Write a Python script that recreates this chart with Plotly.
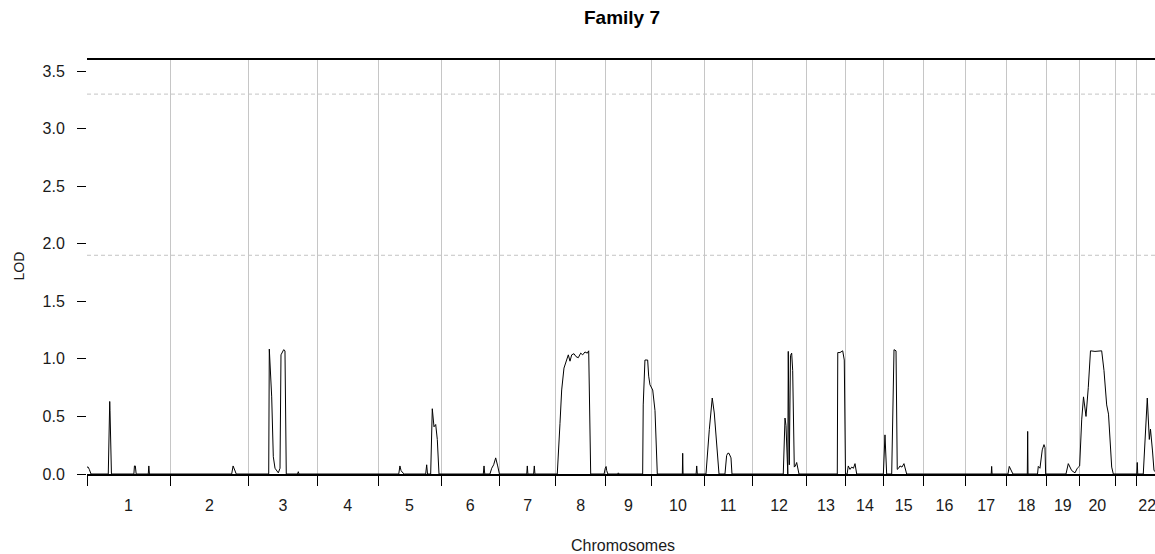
import plotly.graph_objects as go

# ---------------- data ----------------
chrom_labels = [str(i) for i in range(1, 23)]
shown_labels = [l if l != "21" else "" for l in chrom_labels]
chrom_lengths_cM = [289, 273, 239, 211, 219, 203, 196, 173, 160, 183, 167,
                    187, 139, 132, 137, 147, 143, 137, 116, 124, 73, 77]
lod_thresholds = [1.9, 3.3]
y_ticks = [0.0, 0.5, 1.0, 1.5, 2.0, 2.5, 3.0, 3.5]

# positions (cM within chromosome) and LOD scores, one list per chromosome
positions = [
    [0, 4, 8, 14, 74, 79, 80, 85, 163, 165, 168, 171, 213, 215, 217, 289],
    [0, 214, 219, 225, 230, 273],
    [0, 69.8, 71.9, 75, 80.2, 85.8, 91.7, 103.2, 109.1, 112.5, 118.4, 121.9, 126.4, 130.9, 170, 172.7, 175, 239],
    [0, 211],
    [0, 72, 76, 80, 86, 92, 165.6, 169.1, 172, 183, 188.6, 194.5, 200.4, 206, 211.9, 219],
    [0, 147, 149.5, 152, 170, 176.2, 183, 190, 197, 201.5, 203],
    [0, 95, 97, 99, 119, 121.3, 123.5, 196],
    [0, 5.2, 14.6, 20.5, 28.5, 35.5, 43.5, 49.4, 55.3, 63.3, 70.2, 78.2, 86.6, 93.5, 101.5, 109.6, 114.4, 121.4, 168, 172],
    [0, 2, 4, 8, 42, 44.4, 47, 129.1, 131, 137, 146.5, 150, 154.5],
    [4, 12, 20, 107, 108.3, 109.5, 155, 157, 159, 183],
    [0, 6.2, 17.8, 23.7, 28, 35.1, 43.5, 51.5, 72.3, 78, 82, 86.2, 93.2, 96.6, 167],
    [0, 108, 114, 117.5, 123.7, 125.4, 128.9, 133, 137.2, 140.7, 146.3, 150, 154.6, 158.1, 162.6, 187],
    [0, 108.8, 110.5, 118.2, 127.6, 133.1, 137.3, 139],
    [0, 4, 8, 14, 19.9, 26, 31.4, 37.3, 130],
    [0, 3.6, 9.5, 27, 35, 42, 46.3, 51, 55.7, 62.7, 69.6, 79, 137],
    [0, 147],
    [0, 89, 90.6, 92, 143],
    [0, 4.3, 8.8, 13, 17, 21.5, 71.5, 72.8, 74, 107, 109.7, 115.5, 119, 123.5, 129.5, 133, 135.3, 137],
    [0, 69, 77, 83, 88.8, 100.3, 108.3],
    [0.5, 7.6, 13.9, 22.6, 30.5, 38.2, 53.8, 77.1, 85.1, 94.5, 100.8, 111.9, 117.5, 124],
    [0, 73],
    [0, 2, 3.9, 5.5, 24.7, 38.7, 45.7, 49.8, 56.8, 62, 77],
]
lods = [
    [0.06, 0.06, 0.04, 0, 0, 0.63, 0.55, 0, 0, 0.07, 0.07, 0, 0, 0.07, 0, 0],
    [0, 0, 0.07, 0.03, 0, 0],
    [0, 0, 1.085, 0.9, 0.67, 0.15, 0.05, 0.01, 0.05, 1.035, 1.065, 1.08, 1.07, 0, 0, 0.02, 0, 0],
    [0, 0],
    [0, 0, 0.07, 0.03, 0.01, 0, 0, 0.08, 0, 0, 0.567, 0.41, 0.43, 0.3, 0, 0],
    [0, 0, 0.07, 0, 0, 0.05, 0.08, 0.14, 0.07, 0, 0],
    [0, 0, 0.07, 0, 0, 0.07, 0, 0],
    [0, 0, 0.44, 0.73, 0.92, 0.98, 1.035, 0.98, 1.035, 1.045, 1.02, 1.01, 1.05, 1.035, 1.06, 1.05, 1.07, 0, 0, 0.05],
    [0.06, 0.065, 0.03, 0, 0, 0.01, 0, 0, 0.6, 0.99, 0.99, 0.85, 0.775],
    [0.73, 0.55, 0, 0, 0.18, 0, 0, 0.07, 0, 0],
    [0, 0, 0.385, 0.59, 0.66, 0.53, 0.24, 0, 0, 0.16, 0.18, 0.18, 0.14, 0, 0],
    [0, 0, 0.486, 0.42, 0, 1.065, 0.08, 1.03, 1.05, 0.9, 0.06, 0.07, 0.1, 0.05, 0, 0],
    [0, 0, 1.055, 1.055, 1.07, 0.99, 0, 0],
    [0, 0, 0.07, 0.04, 0.06, 0.05, 0.09, 0, 0],
    [0.1, 0.34, 0, 0, 1.08, 1.07, 0.04, 0.05, 0.07, 0.06, 0.09, 0, 0],
    [0, 0],
    [0, 0, 0.066, 0, 0],
    [0, 0, 0.066, 0.04, 0.02, 0, 0, 0.37, 0, 0, 0.066, 0.05, 0.12, 0.21, 0.255, 0.23, 0, 0],
    [0, 0, 0.09, 0.06, 0.03, 0.01, 0.05],
    [0.07, 0.47, 0.67, 0.5, 0.75, 1.07, 1.065, 1.07, 0.9, 0.6, 0.52, 0.06, 0, 0],
    [0, 0],
    [0, 0, 0.1, 0, 0, 0.66, 0.3, 0.39, 0.2, 0.03, 0],
]

# ---------------- build genome-wide coordinates ----------------
chrom_starts = []
acc = 0
for L in chrom_lengths_cM:
    chrom_starts.append(acc)
    acc += L
genome_end = acc
chrom_mids = [s + L / 2 for s, L in zip(chrom_starts, chrom_lengths_cM)]

gx, gy = [], []
for s, p, v in zip(chrom_starts, positions, lods):
    gx += [s + pi for pi in p]
    gy += v

x_range = [0, 3713.5]
y_range = [0, 3.605]
FONT = "Liberation Sans, Arial, Helvetica, sans-serif"

fig = go.Figure()
fig.add_trace(go.Scatter(x=gx, y=gy, mode="lines",
                         line=dict(color="black", width=1),
                         hoverinfo="skip", showlegend=False))
fig.add_trace(go.Scatter(x=[chrom_mids[0]], y=[0], xaxis="x2", mode="markers",
                         marker=dict(opacity=0), hoverinfo="skip", showlegend=False))

shapes = []
for t in lod_thresholds:
    shapes.append(dict(type="line", xref="paper", x0=0, x1=1, yref="y", y0=t, y1=t,
                       line=dict(color="#c4c4c4", width=1, dash="4px,3px"), layer="below"))
shapes.append(dict(type="line", xref="paper", x0=0, x1=1, yref="paper", y0=1, y1=1,
                   line=dict(color="black", width=2)))

fig.update_layout(
    width=1155, height=554,
    margin=dict(l=87, r=0, t=59, b=80, autoexpand=False),
    paper_bgcolor="white", plot_bgcolor="white",
    font=dict(family=FONT, size=16, color="#1a1a1a"),
    showlegend=False,
    shapes=shapes,
    xaxis=dict(range=x_range, tickmode="array", tickvals=chrom_starts + [genome_end],
               ticktext=[""] * (len(chrom_starts) + 1), showticklabels=False,
               ticks="outside", ticklen=10, tickwidth=1, tickcolor="black",
               showgrid=True, gridcolor="#c6c6c6", gridwidth=1, automargin=False,
               showline=True, linecolor="black", linewidth=1.5, zeroline=False),
    xaxis2=dict(overlaying="x", side="bottom", anchor="y", range=x_range,
                tickmode="array", tickvals=chrom_mids, ticktext=shown_labels,
                ticks="outside", ticklen=17, tickcolor="rgba(0,0,0,0)",
                ticklabeloverflow="allow",
                showgrid=False, showline=False, zeroline=False, automargin=False,
                tickfont=dict(size=16, family=FONT, color="#1a1a1a")),
    yaxis=dict(range=y_range, tickmode="array", tickvals=y_ticks,
               ticktext=[f"{v:.1f}" for v in y_ticks],
               ticks="outside", ticklen=9, tickwidth=1, tickcolor="black",
               ticklabelstandoff=9, automargin=False,
               showgrid=False, zeroline=False, showline=False,
               tickfont=dict(size=16, family=FONT, color="#1a1a1a")),
    annotations=[
        dict(text="<b>Family 7</b>", xref="paper", yref="paper", x=0.501, y=1.0988,
             xanchor="center", yanchor="middle", showarrow=False,
             font=dict(size=19, family=FONT, color="black")),
        dict(text="LOD", xref="paper", yref="paper", x=(18 - 87) / 1068, y=0.5,
             xanchor="center", yanchor="middle", textangle=-90, showarrow=False,
             font=dict(size=14, family=FONT, color="#1a1a1a")),
        dict(text="Chromosomes", xref="paper", yref="paper", x=(623 - 87) / 1068,
             y=(474 - 545) / 415, xanchor="center", yanchor="middle", showarrow=False,
             font=dict(size=16, family=FONT, color="#1a1a1a")),
    ],
)

# remove the default page margin / scrollbars so the figure fills the window exactly
fig.write_html("out.html",
               config={"displayModeBar": False},
               post_script="document.body.style.margin='0';"
                           "document.body.style.overflow='hidden';"
                           "document.documentElement.style.overflow='hidden';")
